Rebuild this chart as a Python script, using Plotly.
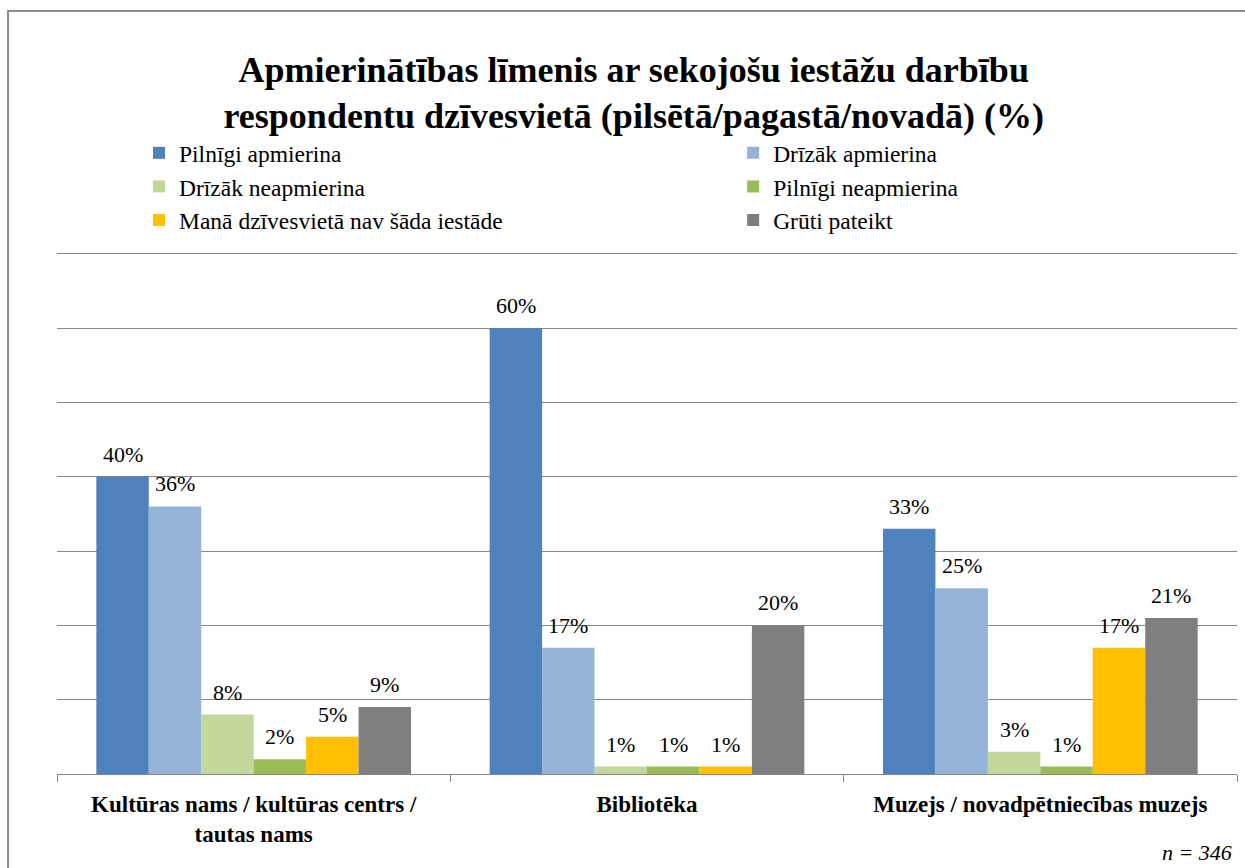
import plotly.graph_objects as go

categories = [
    "Kultūras nams / kultūras centrs /<br>tautas nams",
    "Bibliotēka",
    "Muzejs / novadpētniecības muzejs",
]
series_names = [
    "Pilnīgi apmierina",
    "Drīzāk apmierina",
    "Drīzāk neapmierina",
    "Pilnīgi neapmierina",
    "Manā dzīvesvietā nav šāda iestāde",
    "Grūti pateikt",
]
pilnigi_apmierina = [40, 60, 33]
drizak_apmierina = [36, 17, 25]
drizak_neapmierina = [8, 1, 3]
pilnigi_neapmierina = [2, 1, 1]
nav_iestades = [5, 1, 17]
gruti_pateikt = [9, 20, 21]
series_values = [
    pilnigi_apmierina,
    drizak_apmierina,
    drizak_neapmierina,
    pilnigi_neapmierina,
    nav_iestades,
    gruti_pateikt,
]
colors = ["#4F81BD", "#95B3D7", "#C3D69B", "#9BBB59", "#FFC000", "#7F7F7F"]

SERIF = "Liberation Serif"
BAR_GAP = 0.2

fig = go.Figure()
for i, (name, vals, col) in enumerate(zip(series_names, series_values, colors)):
    fig.add_trace(go.Bar(
        name=name,
        x=categories,
        y=vals,
        marker=dict(color=col, line=dict(width=0)),
        # legend is laid out in two columns: even series left, odd series right
        legend="legend" if i % 2 == 0 else "legend2",
    ))

# Value labels above each bar, placed at the centre of its grouped slot
n_series = len(series_values)
slot = (1 - BAR_GAP) / n_series
value_labels = []
for i, vals in enumerate(series_values):
    offset = -(1 - BAR_GAP) / 2 + slot * (i + 0.5)
    for j, v in enumerate(vals):
        value_labels.append(dict(
            x=j + offset, y=v, xref="x", yref="y",
            text=f"{v}%",
            showarrow=False,
            xanchor="center", yanchor="bottom",
            yshift=8,
            font=dict(family=SERIF, size=22, color="#000000"),
        ))

legend_style = dict(
    orientation="v",
    xanchor="left",
    yref="container",
    y=0.849, yanchor="top",
    font=dict(family=SERIF, size=23.5, color="#000000"),
    bgcolor="rgba(0,0,0,0)",
    traceorder="normal",
    itemclick=False,
    tracegroupgap=0,
)

fig.update_layout(
    width=1245,
    height=868,
    margin=dict(l=57, r=8, t=250, b=94, autoexpand=False),
    paper_bgcolor="white",
    plot_bgcolor="white",
    barmode="group",
    bargap=BAR_GAP,
    bargroupgap=0,
    font=dict(family=SERIF, color="#000000"),
    title=dict(
        text="Apmierinātības līmenis ar sekojošu iestāžu darbību<br>respondentu dzīvesvietā (pilsētā/pagastā/novadā) (%)",
        font=dict(family=SERIF, size=36, color="#000000", weight="bold"),
        x=0.509, xanchor="center",
        yref="container",
        y=0.906, yanchor="middle",
    ),
    showlegend=True,
    legend=dict(x=0.0695, **legend_style),
    legend2=dict(x=0.573, **legend_style),
    xaxis=dict(
        showline=True,
        linecolor="#868686",
        linewidth=1,
        ticks="outside",
        tickson="boundaries",
        ticklen=7,
        tickcolor="#868686",
        ticklabelstandoff=9,
        tickfont=dict(family=SERIF, size=23, color="#000000", weight="bold"),
        showgrid=False,
    ),
    yaxis=dict(
        range=[0, 70.5],
        dtick=10,
        showticklabels=False,
        showgrid=True,
        gridcolor="#868686",
        gridwidth=1,
        zeroline=False,
        showline=False,
        ticks="",
    ),
    shapes=[
        dict(
            type="rect", xref="paper", yref="paper",
            x0=-0.0415, x1=1.2, y0=-0.6, y1=1.456,
            line=dict(color="#8C8C8C", width=2),
            fillcolor="rgba(0,0,0,0)",
            layer="below",
        )
    ],
    annotations=value_labels + [
        dict(
            text="<i>n = 346</i>",
            xref="paper", yref="paper",
            x=0.9975, xanchor="right",
            y=-0.149, yanchor="middle",
            showarrow=False,
            font=dict(family=SERIF, size=22, color="#000000"),
        )
    ],
)

fig.write_html("out.html")
